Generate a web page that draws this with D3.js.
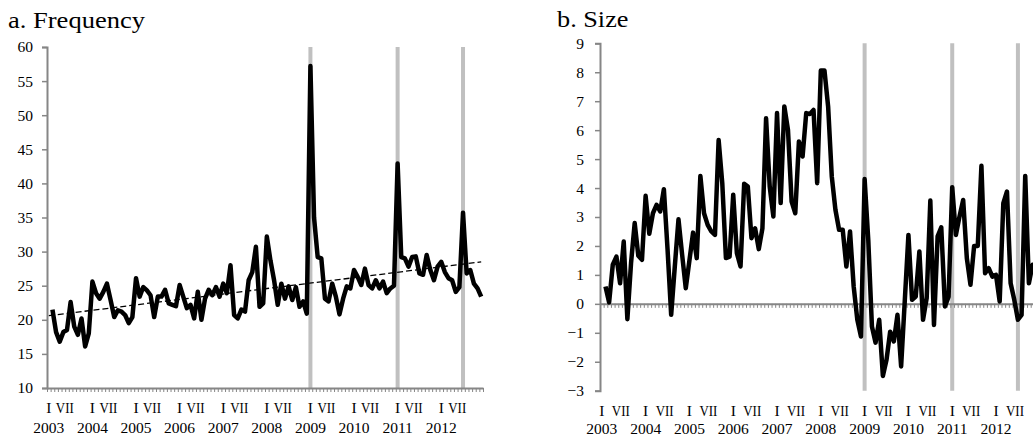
<!DOCTYPE html>
<html><head><meta charset="utf-8">
<script src="https://cdn.jsdelivr.net/npm/d3@7"></script>
<style>
body{margin:0;background:#fff}
svg{display:block}
svg text{font-family:"Liberation Serif","Tinos","Times New Roman","DejaVu Serif",serif !important;fill:#000}
</style>
</head><body><svg id="c" width="1033" height="439"></svg>
<script>
// ---------- data ----------
const years = [2003,2004,2005,2006,2007,2008,2009,2010,2011,2012];
const halfYearLabels = ["I","VII"];
const months = years.flatMap(y => ["01","02","03","04","05","06","07","08","09","10","11","12"].map(m => y + "-" + m));
const seriesMonths = months.slice(1); // Feb 2003 .. Dec 2012

const frequency = [
  21.5,18.2,16.8,18.2,18.5,22.6,19.0,17.8,20.2,16.1,18.0,
  25.6,23.9,23.1,24.1,25.3,22.9,20.4,21.4,21.2,20.7,19.5,20.4,
  26.1,23.4,24.8,24.3,23.6,20.4,23.4,23.4,24.4,22.4,22.2,22.0,
  25.1,23.4,21.7,22.2,20.2,24.1,20.0,23.1,24.4,23.6,24.8,23.4,
  25.3,23.9,28.0,20.7,20.2,21.5,21.2,25.8,27.0,30.7,21.9,22.4,
  32.2,28.7,25.8,22.2,25.3,23.1,24.9,22.9,24.8,21.9,22.7,20.9,
  57.2,35.0,29.2,29.0,23.1,22.7,25.3,23.4,20.8,23.1,24.9,24.6,
  27.3,26.3,25.1,27.5,25.1,24.6,25.8,24.6,25.6,23.9,24.6,25.0,
  42.9,29.2,29.0,27.8,29.2,29.3,26.8,26.6,29.5,27.3,25.8,27.8,
  28.5,27.0,26.1,25.8,24.1,24.8,35.7,26.8,27.3,25.3,24.6,23.4
];
const size = [
  0.6,0.05,1.35,1.63,0.71,2.15,-0.53,1.4,2.79,1.66,1.52,
  3.73,2.42,3.13,3.42,3.19,3.96,1.9,-0.38,1.3,2.92,1.7,0.54,
  1.5,2.46,1.58,4.42,3.13,2.73,2.5,2.38,5.66,4.17,1.58,1.63,
  3.77,1.75,1.29,4.15,4.05,2.27,2.61,1.89,2.61,6.41,4.05,3.02,
  6.59,3.48,6.82,6.01,3.53,3.13,5.61,5.09,6.59,6.56,6.70,4.17,
  8.06,8.06,6.82,4.40,3.25,2.56,2.56,1.29,2.50,0.6,-0.55,-1.13,
  4.31,2.21,-0.78,-1.34,-0.55,-2.49,-1.93,-0.96,-1.30,-0.38,-2.16,0.1,
  2.38,0.14,0.25,1.81,-0.55,0.2,3.57,-0.73,2.33,2.64,-0.09,0.25,
  4.03,2.38,3.02,3.59,1.58,0.66,2.0,2.0,4.77,1.06,1.23,0.94,
  1.0,0.08,3.48,3.88,0.71,0.14,-0.55,-0.38,4.42,0.71,1.35,1.3
];
const freqTrendMonths = ["2003-01","2012-12"];
const freqTrendValues = [20.6,28.5];
const shockMonths = ["2009-01","2011-01","2012-07"];
const freqTicks = [10,15,20,25,30,35,40,45,50,55,60];
const sizeTicks = [-3,-2,-1,0,1,2,3,4,5,6,7,8,9];
const titles = ["a. Frequency","b. Size"];

// ---------- drawing ----------
const svg = d3.select("#c");
const AXIS = "#868686";

function panel(o){
  const g = svg.append("g");
  const x = d3.scaleBand().domain(months).range([o.x0,o.x1]).paddingInner(0).paddingOuter(0);
  const xc = m => x(m) + x.bandwidth()/2;
  const y = d3.scaleLinear().domain(o.domain).range([o.yBot,o.yTop]);

  g.append("text").attr("x",o.titleX).attr("y",o.titleY).attr("font-size",o.titleSize)
    .attr("textLength",o.titleLen).attr("lengthAdjust","spacingAndGlyphs").text(o.title);

  g.selectAll("line.shock").data(shockMonths).join("line")
    .attr("x1",xc).attr("x2",xc).attr("y1",o.yTop).attr("y2",o.yBot)
    .attr("stroke","#c0c0c0").attr("stroke-width",4);

  const ya = g.append("g").attr("transform",`translate(${o.x0},0)`)
    .call(d3.axisLeft(y).tickValues(o.ticks).tickSize(5).tickPadding(o.tickPad).tickFormat(d3.format("d")));
  ya.select(".domain").attr("stroke",AXIS).attr("stroke-width",2);
  ya.selectAll(".tick line").attr("stroke",AXIS).attr("stroke-width",1.5);
  ya.selectAll(".tick text").attr("font-size",o.fs).attr("fill","#000");

  const yAxisPos = y(o.axisValue);
  const xl = d3.scaleLinear().domain([0,months.length]).range([o.x0,o.x1]);
  const xa = g.append("g").attr("transform",`translate(0,${yAxisPos})`)
    .call(d3.axisBottom(xl).tickValues(d3.range(months.length+1)).tickSize(4).tickSizeOuter(0).tickFormat(""));
  xa.select(".domain").attr("stroke",AXIS).attr("stroke-width",2);
  xa.selectAll(".tick line").attr("stroke",AXIS).attr("stroke-width",1);

  years.forEach(yr => {
    const xi = xc(yr+"-01");
    g.append("text").attr("x",xi).attr("y",o.lab1Y).attr("text-anchor","middle").attr("font-size",o.fs).text(halfYearLabels[0]);
    g.append("text").attr("x",xi+o.viiOff-9).attr("y",o.lab1Y).attr("font-size",o.fs)
      .attr("textLength",18).attr("lengthAdjust","spacingAndGlyphs").text(halfYearLabels[1]);
    g.append("text").attr("x",xi).attr("y",o.lab2Y).attr("text-anchor","middle").attr("font-size",o.fs).text(yr);
  });

  if (o.trend){
    g.append("path")
      .datum(o.trend.m.map((m,i)=>[m,o.trend.v[i]]))
      .attr("d",d3.line().x(d=>xc(d[0])).y(d=>y(d[1])))
      .attr("fill","none").attr("stroke","#000").attr("stroke-width",1.3).attr("stroke-dasharray","6,3");
  }

  g.append("path")
    .datum(seriesMonths.map((m,i)=>[m,o.values[i]]))
    .attr("d",d3.line().x(d=>xc(d[0])).y(d=>y(d[1])))
    .attr("fill","none").attr("stroke","#000").attr("stroke-width",4.5)
    .attr("stroke-linejoin","round");
}

panel({x0:47,x1:483,yTop:47,yBot:388,domain:[10,60],ticks:freqTicks,axisValue:10,
  values:frequency,title:titles[0],titleX:8,titleY:28,titleSize:23,titleLen:137,fs:15.5,tickPad:9,
  lab1Y:413,lab2Y:433,viiOff:16,trend:{m:freqTrendMonths,v:freqTrendValues}});
panel({x0:600,x1:1038,yTop:43.3,yBot:390.7,domain:[-3,9],ticks:sizeTicks,axisValue:0,
  values:size,title:titles[1],titleX:557,titleY:27,titleSize:23,titleLen:71.5,fs:15.5,tickPad:11,
  lab1Y:416,lab2Y:434,viiOff:19});
</script></body></html>
